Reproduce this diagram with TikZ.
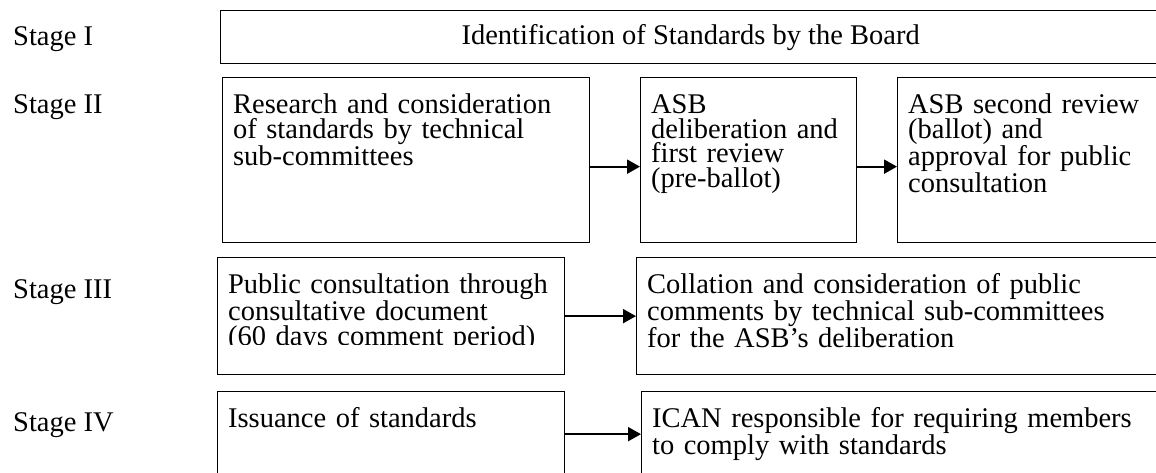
\documentclass[tikz,border=0pt]{standalone}
\usepackage{fontspec}
\setmainfont{Liberation Serif}
\usetikzlibrary{arrows.meta}
\lineskiplimit=-100pt

\begin{document}
\begin{tikzpicture}[x=1pt,y=-1pt,stage/.style={anchor=base west,inner sep=0pt,font=\fontsize{28.5}{24.5}\selectfont},block/.style={draw=black,line width=1.3pt,anchor=north west,align=left,inner xsep=10.5pt,inner ysep=16pt,text height=20pt,font=\fontsize{28.5}{24.5}\selectfont},arrow/.style={-{Triangle[length=13pt,width=14pt]},line width=2pt}]
\path[use as bounding box,clip] (0,0) rectangle (1156,473);
\node[stage] (s1) at (13,46) {Stage I};
\node[stage] (s2) at (13,114) {Stage II};
\node[stage] (s3) at (13,298) {Stage III};
\node[stage] (s4) at (13,431) {Stage IV};
\node[draw=black,line width=1.3pt,anchor=north west,minimum width=940pt,minimum height=53pt,font=\fontsize{28.5}{24.5}\selectfont] (ident) at (220,10) {Identification of Standards by the Board};
\node[block,text width=346pt,text depth=113pt] (research) at (222,77) {Research and consideration\\of standards by technical\\sub-committees};
\node[block,text width=195pt,text depth=113pt] (deliberation) at (640,77) {ASB\\deliberation and\\first review\\(pre-ballot)};
\node[block,text width=242pt,text depth=113pt] (approval) at (897,77) {ASB second review\\(ballot) and\\approval for public\\consultation};
\node[block,text width=326pt,text depth=65pt] (pubcons) at (217,257) {Public consultation through\\consultative document\\(60 days comment period)};
% last line is cut off just below its baseline
\fill[white] ([xshift=2pt]pubcons.west |- 0,345) rectangle ([xshift=-2pt,yshift=2pt]pubcons.south east);
\node[block,text width=503pt,text depth=65pt] (collation) at (636,257) {Collation and consideration of public\\comments by technical sub-committees\\for the ASB’s deliberation};
\node[block,text width=326pt,text depth=33pt] (issuance) at (217,391) {Issuance of standards};
\node[block,text width=498pt,text depth=33pt] (compliance) at (641,391) {ICAN responsible for requiring members\\to comply with standards};
\draw[arrow] ([yshift=-6.5pt]research.east) -- ([yshift=-6.5pt]deliberation.west);
\draw[arrow] ([yshift=-6.5pt]deliberation.east) -- ([yshift=-6.5pt]approval.west);
\draw[arrow] (pubcons.east) -- (collation.west);
\draw[arrow] (issuance.east) -- (compliance.west);
\end{tikzpicture}
\end{document}
